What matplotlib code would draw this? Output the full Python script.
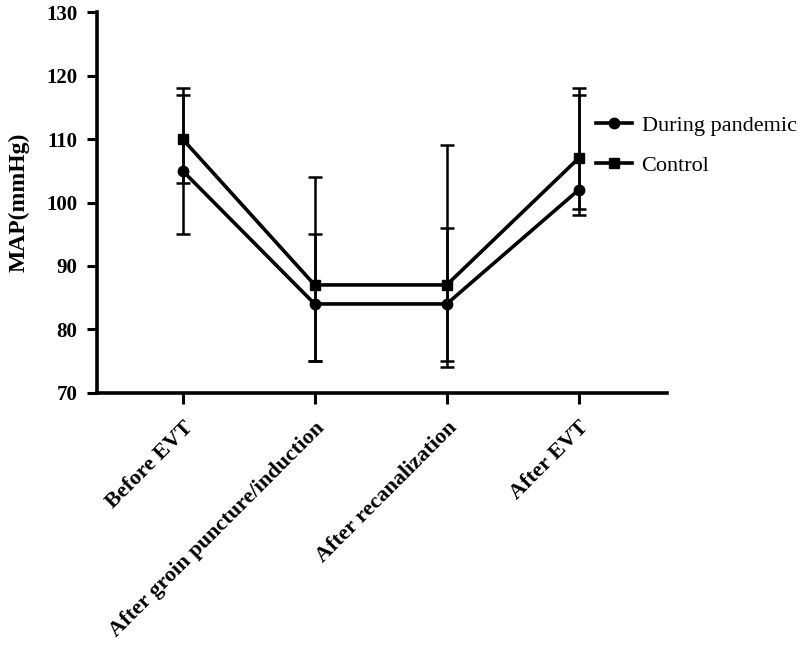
import numpy as np
import matplotlib
matplotlib.use("Agg")
import matplotlib.pyplot as plt

plt.rcParams['font.family'] = ['Liberation Serif', 'DejaVu Serif']

stages = ["Before EVT", "After groin puncture/induction", "After recanalization", "After EVT"]

pandemic_mean = [105, 84, 84, 102]
pandemic_upper = [117, 95, 96, 117]
pandemic_lower = [95, 75, 75, 99]

control_mean = [110, 87, 87, 107]
control_upper = [118, 104, 109, 118]
control_lower = [103, 75, 74, 98]

x = np.arange(len(stages))

fig = plt.figure(figsize=(8, 6.47), dpi=100)
ax = fig.add_axes([0.121, 0.393, 0.713, 0.588])

def yerr(mean, lower, upper):
    mean = np.array(mean)
    return [mean - np.array(lower), np.array(upper) - mean]

ax.errorbar(x, pandemic_mean, yerr=yerr(pandemic_mean, pandemic_lower, pandemic_upper),
            color='black', marker='o', markersize=7.5, linewidth=2.6,
            elinewidth=1.8, capsize=4.7, capthick=1.8, label="During pandemic")
ax.errorbar(x, control_mean, yerr=yerr(control_mean, control_lower, control_upper),
            color='black', marker='s', markersize=7.5, linewidth=2.6,
            elinewidth=1.8, capsize=4.7, capthick=1.8, label="Control")

ax.set_xlim(-0.65, 3.67)
ax.set_ylim(70, 130)
ax.set_yticks(np.arange(70, 131, 10))
ax.set_xticks(x)
ax.set_xticklabels(stages, rotation=45, ha='right', rotation_mode='anchor',
                   fontweight='bold', fontsize=16)
ax.tick_params(axis='y', labelsize=15, width=2.2, length=7, pad=7)
ax.tick_params(axis='x', width=2.2, length=8, pad=10)
for lab in ax.get_yticklabels():
    lab.set_fontweight('bold')

ax.spines['top'].set_visible(False)
ax.spines['right'].set_visible(False)
ax.spines['left'].set_linewidth(2.6)
ax.spines['bottom'].set_linewidth(2.6)

ax.set_ylabel("MAP(mmHg)", fontweight='bold', fontsize=17, labelpad=12)

handles, labels = ax.get_legend_handles_labels()
handles = [h[0] for h in handles]
fig.legend(handles, labels, loc='center left', bbox_to_anchor=(0.745, 0.775),
           frameon=False, fontsize=16, handlelength=1.6, handletextpad=0.45,
           labelspacing=0.85, borderpad=0, borderaxespad=0)

fig.savefig("out.png", dpi=100)
